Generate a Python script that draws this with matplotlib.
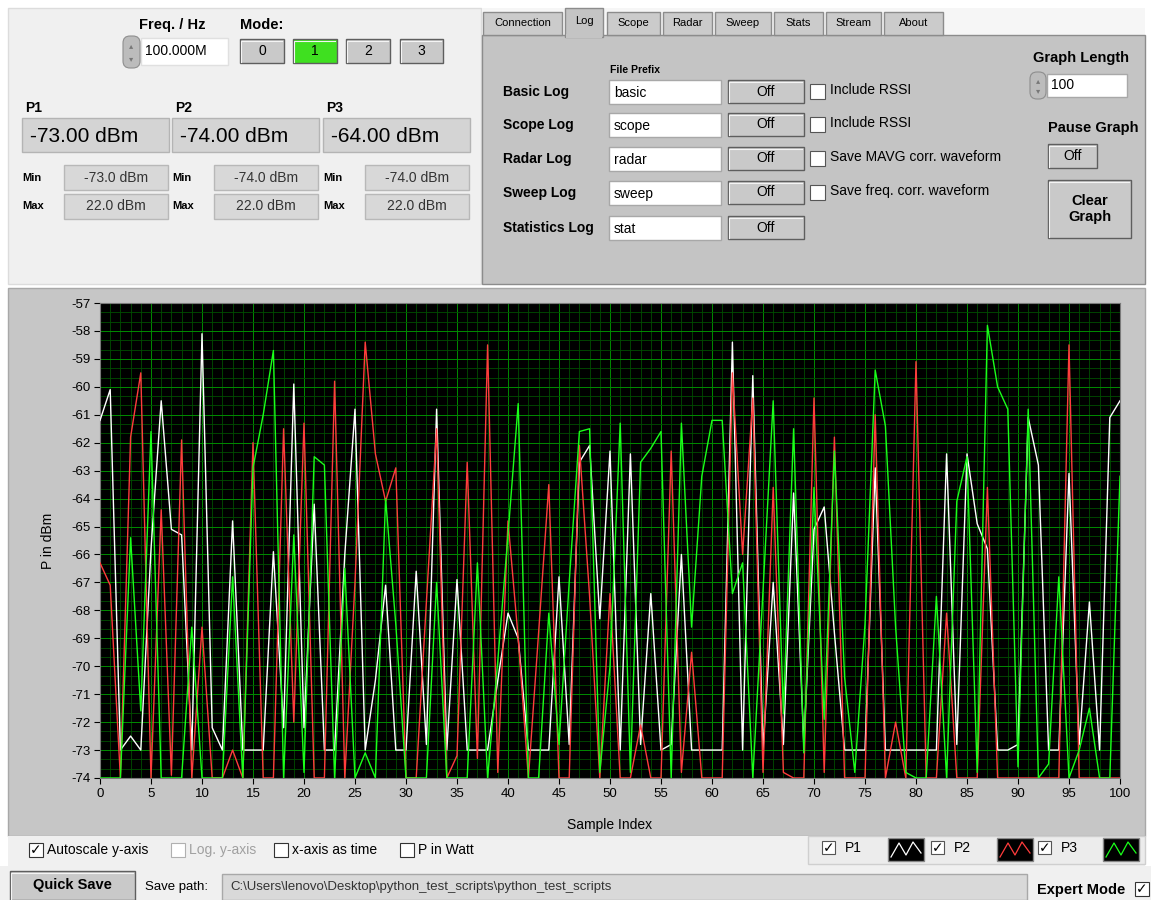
import matplotlib
matplotlib.use("Agg")
import matplotlib.pyplot as plt
from matplotlib.patches import Rectangle, FancyBboxPatch
from matplotlib.ticker import MultipleLocator

plt.rcParams['font.family'] = ['Liberation Sans', 'DejaVu Sans']
plt.rcParams['axes.unicode_minus'] = False

# ---- data ----
sample_index = list(range(101))
p1_dbm = [-61.2, -60.1, -73.0, -72.5, -73.0, -65.8, -60.5, -65.1, -65.3, -73.0,
          -58.1, -72.2, -73.0, -64.8, -73.0, -73.0, -73.0, -65.9, -72.2, -59.9,
          -72.2, -64.2, -73.0, -73.0, -66.0, -60.8, -73.0, -70.5, -67.1, -73.0,
          -73.0, -66.6, -72.8, -60.8, -73.0, -66.9, -73.0, -73.0, -73.0, -70.5,
          -68.1, -69.0, -73.0, -73.0, -73.0, -66.8, -72.8, -62.7, -62.1, -68.3,
          -62.3, -73.0, -62.4, -72.8, -67.4, -73.0, -72.8, -66.0, -73.0, -73.0,
          -73.0, -73.0, -58.4, -73.0, -59.6, -73.0, -67.0, -72.8, -63.8, -72.8,
          -65.1, -64.3, -68.8, -73.0, -73.0, -73.0, -62.9, -73.0, -73.0, -73.0,
          -73.0, -73.0, -73.0, -62.4, -72.8, -62.4, -64.9, -65.8, -73.0, -73.0,
          -72.8, -61.1, -62.8, -73.0, -73.0, -63.1, -72.8, -67.7, -73.0, -61.1,
          -60.5]
p2_dbm = [-66.3, -67.1, -74.0, -61.8, -59.5, -74.0, -64.4, -73.9, -61.9, -74.0,
          -68.6, -74.0, -74.0, -73.0, -74.0, -62.0, -74.0, -74.0, -61.5, -72.0,
          -61.3, -74.0, -74.0, -59.8, -74.0, -67.0, -58.4, -62.4, -64.1, -62.9,
          -74.0, -74.0, -67.7, -61.5, -74.0, -73.2, -62.7, -73.3, -58.5, -73.8,
          -64.8, -69.0, -74.0, -68.8, -63.5, -74.0, -74.0, -62.1, -67.5, -74.0,
          -67.4, -74.0, -74.0, -72.1, -74.0, -74.0, -62.3, -73.8, -69.5, -74.0,
          -74.0, -74.0, -59.5, -66.0, -60.4, -73.8, -63.6, -73.8, -74.0, -74.0,
          -60.4, -73.8, -61.8, -74.0, -74.0, -74.0, -61.0, -74.0, -72.0, -74.0,
          -59.1, -74.0, -74.0, -68.1, -74.0, -74.0, -74.0, -63.6, -74.0, -74.0,
          -74.0, -74.0, -74.0, -74.0, -74.0, -58.5, -74.0, -74.0, -74.0, -74.0,
          -74.0]
p3_dbm = [-74.0, -74.0, -74.0, -65.4, -71.6, -61.6, -74.0, -74.0, -74.0, -68.6,
          -74.0, -74.0, -74.0, -66.8, -74.0, -62.9, -61.0, -58.7, -74.0, -65.3,
          -73.8, -62.5, -62.8, -74.0, -66.5, -74.0, -73.1, -74.0, -64.0, -68.5,
          -74.0, -74.0, -74.0, -67.0, -74.0, -74.0, -74.0, -66.3, -74.0, -69.8,
          -65.3, -60.6, -74.0, -74.0, -68.1, -72.8, -67.0, -61.6, -61.5, -73.8,
          -70.0, -61.3, -73.8, -62.7, -62.2, -61.6, -74.0, -61.3, -68.6, -63.2,
          -61.2, -61.2, -67.4, -66.3, -74.0, -67.3, -60.5, -71.7, -61.5, -73.1,
          -63.6, -71.9, -62.3, -70.4, -73.8, -68.5, -59.4, -61.4, -68.6, -73.8,
          -74.0, -74.0, -67.5, -74.0, -64.1, -62.5, -73.8, -57.8, -60.0, -60.8,
          -73.6, -60.8, -74.0, -73.5, -66.8, -74.0, -73.0, -71.5, -74.0, -74.0,
          -63.2]
series_names = ["P1", "P2", "P3"]
series_colors = ["#ffffff", "#ff3c3c", "#1aff1a"]

current_vals = ["-73.00 dBm", "-74.00 dBm", "-64.00 dBm"]
min_vals = ["-73.0 dBm", "-74.0 dBm", "-74.0 dBm"]
max_vals = ["22.0 dBm", "22.0 dBm", "22.0 dBm"]
mode_labels = ["0", "1", "2", "3"]
tab_names = ["Connection", "Log", "Scope", "Radar", "Sweep", "Stats", "Stream", "About"]
log_rows = ["Basic Log", "Scope Log", "Radar Log", "Sweep Log", "Statistics Log"]
file_prefixes = ["basic", "scope", "radar", "sweep", "stat"]
log_options = ["Include RSSI", "Include RSSI", "Save MAVG corr. waveform", "Save freq. corr. waveform"]
graph_options = ["Autoscale y-axis", "Log. y-axis", "x-axis as time", "P in Watt"]
save_path = "C:\\Users\\lenovo\\Desktop\\python_test_scripts\\python_test_scripts"

W, H = 1151, 900
fig = plt.figure(figsize=(W / 100, H / 100), dpi=100, facecolor="white")

# background "panel" axes in pixel coordinates
bg = fig.add_axes([0, 0, 1, 1])
bg.set_xlim(0, W)
bg.set_ylim(H, 0)
bg.axis("off")
bg.set_zorder(0)


def rect(x0, y0, x1, y1, fc, ec="none", lw=1.0, z=1):
    bg.add_patch(Rectangle((x0, y0), x1 - x0, y1 - y0, facecolor=fc,
                           edgecolor=ec, linewidth=lw, zorder=z))


def label(x, y, s, size=9.5, bold=False, ha="left", color="black", **kw):
    bg.text(x, y, s, fontsize=size, fontweight="bold" if bold else "normal",
            ha=ha, va="center", color=color, zorder=6, **kw)


def button(x0, y0, x1, y1, s, fc="#c9c9c9", size=9.5, bold=False):
    rect(x0, y0, x1, y1, fc, ec="#5e5e5e", lw=1.0, z=3)
    bg.plot([x0 + 1.5, x0 + 1.5, x1 - 1.5], [y1 - 1.5, y0 + 1.5, y0 + 1.5],
            color="#f4f4f4", lw=0.8, zorder=4)
    label((x0 + x1) / 2, (y0 + y1) / 2, s, size=size, bold=bold, ha="center")


def checkbox(x, y, checked=False, s=14, ec="#333333"):
    rect(x, y, x + s, y + s, "white", ec=ec, lw=0.8, z=3)
    if checked:
        label(x + s / 2, y + s / 2 + 0.5, "\u2713", size=10, ha="center", family="DejaVu Sans")


def spinner(x0, y0, x1, y1):
    bg.add_patch(FancyBboxPatch((x0, y0), x1 - x0, y1 - y0,
                                boxstyle="round,pad=0,rounding_size=7",
                                fc="#bcbcbc", ec="#8e8e8e", lw=0.8, zorder=3))
    label((x0 + x1) / 2, y0 + (y1 - y0) * 0.3, "\u25b4", size=6, ha="center",
          color="#777777", family="DejaVu Sans")
    label((x0 + x1) / 2, y0 + (y1 - y0) * 0.7, "\u25be", size=6, ha="center",
          color="#777777", family="DejaVu Sans")


# ---- top-left panel ----
rect(8, 8, 481, 284, "#f0f0f0", ec="#dcdcdc")
label(172, 25, "Freq. / Hz", size=10.5, bold=True, ha="center")
spinner(123, 36, 140, 68)
rect(141, 38, 228, 65, "white", ec="#e0e0e0", z=2)
label(145, 51, "100.000M", size=10)
label(240, 25, "Mode:", size=10.5, bold=True)
for lab, (bx0, bx1) in zip(mode_labels, [(240, 284), (293, 337), (346, 390), (400, 443)]):
    button(bx0, 39, bx1, 63, lab, fc="#3fe020" if lab == "1" else "#c9c9c9", size=10)

group_x = [22, 172, 323]
for i in range(3):
    gx = group_x[i]
    label(gx + 3, 108, series_names[i], size=10, bold=True)
    rect(gx, 118, gx + 147, 152, "#d4d4d4", ec="#b4b4b4", z=2)
    label(gx + 8, 136, current_vals[i], size=15)
    label(gx, 178, "Min", size=8, bold=True)
    label(gx, 206, "Max", size=8, bold=True)
    rect(gx + 42, 165, gx + 146, 190, "#d8d8d8", ec="#b8b8b8", z=2)
    rect(gx + 42, 194, gx + 146, 219, "#d8d8d8", ec="#b8b8b8", z=2)
    label(gx + 94, 178, min_vals[i], size=10, ha="center", color="#333333")
    label(gx + 94, 206, max_vals[i], size=10, ha="center", color="#333333")

# ---- top-right tab panel ----
rect(482, 8, 1145, 35, "#f6f6f6")
rect(482, 35, 1145, 284, "#c4c4c4", ec="#8c8c8c", z=1)
tab_x = [(483, 562), (565, 603), (607, 660), (663, 712), (715, 771), (774, 823), (826, 881), (884, 943)]
for name, (tx0, tx1) in zip(tab_names, tab_x):
    if name == "Log":
        rect(tx0, 8, tx1, 37, "#c4c4c4", ec="#8c8c8c", z=2)
        rect(tx0 + 1, 34, tx1 - 1, 38, "#c4c4c4", z=2)
        label((tx0 + tx1) / 2, 21, name, size=8, ha="center")
    else:
        rect(tx0, 12, tx1, 35, "#cbcbcb", ec="#8c8c8c", z=2)
        label((tx0 + tx1) / 2, 23, name, size=8, ha="center")

label(610, 70, "File Prefix", size=7.5, bold=True)
row_y = [92, 125, 159, 193, 228]
for i, ry in enumerate(row_y):
    label(503, ry, log_rows[i], size=10, bold=True)
    rect(609, ry - 12, 721, ry + 12, "white", ec="#a8a8a8", z=2)
    label(614, ry + 1, file_prefixes[i], size=10)
    button(728, ry - 12, 804, ry + 11, "Off", size=10)
    if i < len(log_options):
        checkbox(810, ry - 8, s=15, ec="#555555")
        label(830, ry - 2, log_options[i], size=10)

label(1081, 58, "Graph Length", size=10.5, bold=True, ha="center")
spinner(1030, 72, 1046, 99)
rect(1047, 74, 1127, 97, "white", ec="#a8a8a8", z=2)
label(1051, 85, "100", size=10)
label(1093, 128, "Pause Graph", size=10.5, bold=True, ha="center")
button(1048, 144, 1097, 168, "Off", size=10)
button(1048, 180, 1131, 238, "Clear\nGraph", size=10.5, bold=True)

# ---- graph frame ----
rect(8, 288, 1145, 836, "#c6c6c6", ec="#a8a8a8")
rect(8, 836, 1145, 866, "#f0f0f0")
rect(0, 866, W, H, "#f0f0f0")

ax = fig.add_axes([100 / W, 1 - 778 / H, 1020 / W, 475 / H])
ax.set_zorder(2)
ax.set_facecolor("black")
for vals, name, col in zip([p1_dbm, p2_dbm, p3_dbm], series_names, series_colors):
    ax.plot(sample_index, vals, color=col, lw=1.0, label=name, zorder=3)
ax.set_xlim(0, 100)
ax.set_ylim(-74, -57)
ax.xaxis.set_major_locator(MultipleLocator(5))
ax.xaxis.set_minor_locator(MultipleLocator(1))
ax.yaxis.set_major_locator(MultipleLocator(1))
ax.yaxis.set_minor_locator(MultipleLocator(1 / 3))
ax.grid(which="major", color="#008c00", lw=0.7)
ax.grid(which="minor", color="#004e00", lw=0.6)
ax.set_axisbelow(True)
ax.tick_params(which="major", length=4, width=0.8, labelsize=9.5, pad=3, color="black")
ax.tick_params(which="minor", length=0)
for sp in ax.spines.values():
    sp.set_color("#7a7a7a")
    sp.set_linewidth(0.8)
ax.set_xlabel("Sample Index", fontsize=10)
ax.set_ylabel("P in dBm", fontsize=10)
ax.xaxis.set_label_coords(0.5, -(818 - 778) / 475)
ax.yaxis.set_label_coords(-(100 - 55) / 1020, 0.5)

# ---- graph options row ----
opt_x = [29, 171, 274, 400]
for i, name in enumerate(graph_options):
    disabled = name.startswith("Log")
    checkbox(opt_x[i], 843, checked=(i == 0), s=14, ec="#b0b0b0" if disabled else "#333333")
    label(opt_x[i] + 18, 850, name, size=10, color="#a0a0a0" if disabled else "black")

# plot legend
rect(808, 836, 1145, 864, "#ececec", ec="#cfcfcf")
leg_x = [822, 931, 1038]
sw_x = [888, 997, 1103]
for i in range(3):
    checkbox(leg_x[i], 841, checked=True, s=13, ec="#555555")
    label(leg_x[i] + 23, 848, series_names[i], size=10)
    rect(sw_x[i], 838, sw_x[i] + 36, 861, "black", ec="#888888", z=3)
    zx = [sw_x[i] + d for d in (3, 11, 18, 25, 33)]
    zy = [857, 843, 855, 842, 853]
    bg.plot(zx, zy, color=series_colors[i], lw=0.9, zorder=4)

# ---- bottom save row ----
button(10, 871, 135, 900, "Quick Save", size=10.5, bold=True)
label(145, 887, "Save path:", size=9.5)
rect(222, 874, 1027, 900, "#d9d9d9", ec="#a8a8a8", z=2)
label(230, 887, save_path, size=9.5, color="#333333")
label(1037, 890, "Expert Mode", size=10.5, bold=True)
checkbox(1135, 882, checked=True, s=14, ec="#333333")

fig.savefig("out.png", dpi=100, facecolor=fig.get_facecolor())
